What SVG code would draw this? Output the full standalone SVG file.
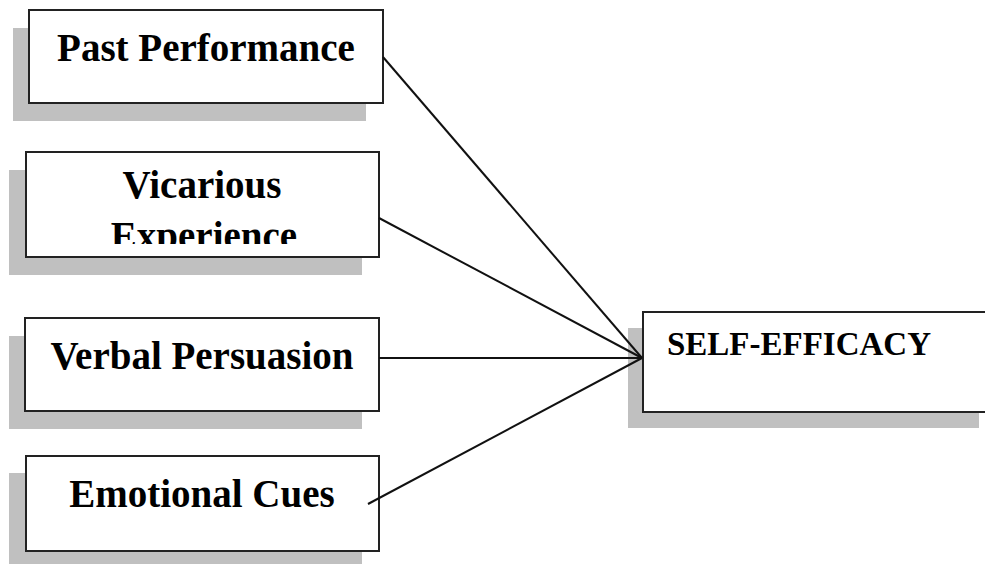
<svg xmlns="http://www.w3.org/2000/svg" width="985" height="564" viewBox="0 0 985 564">
<style>
.shadow{fill:#c0c0c0}
.box{fill:#fff;stroke:#222;stroke-width:2}
.lbl{font-family:"Liberation Serif","Times New Roman",serif;font-weight:bold;font-size:39px;fill:#000;text-anchor:middle}
.conn{stroke:#111;stroke-width:2;fill:none}
</style>
<defs>
<clipPath id="clip2"><rect x="26" y="152" width="353" height="92"/></clipPath>
</defs>
<rect width="985" height="564" fill="#fff"/>
<g id="past-performance">
<rect class="shadow" x="13" y="28" width="353" height="93"/>
<rect class="box" x="29" y="10" width="354" height="93"/>
<text class="lbl" x="206" y="61">Past Performance</text>
</g>
<g id="vicarious-experience">
<rect class="shadow" x="9" y="170" width="353" height="105"/>
<rect class="box" x="26" y="152" width="353" height="105"/>
<text class="lbl" x="202" y="198">Vicarious</text>
<text class="lbl" x="204" y="249" clip-path="url(#clip2)">Experience</text>
</g>
<g id="verbal-persuasion">
<rect class="shadow" x="9" y="336" width="353" height="93"/>
<rect class="box" x="25" y="318" width="354" height="93"/>
<text class="lbl" x="202" y="369">Verbal Persuasion</text>
</g>
<g id="emotional-cues">
<rect class="shadow" x="9" y="473" width="353" height="93"/>
<rect class="box" x="26" y="456" width="353" height="95"/>
<text class="lbl" x="202" y="507">Emotional Cues</text>
</g>
<g id="self-efficacy">
<rect class="shadow" x="628" y="328" width="351" height="100"/>
<rect class="box" x="643" y="312" width="345" height="100"/>
<text class="lbl" x="799" y="355" style="font-size:33px">SELF-EFFICACY</text>
</g>
<g id="connectors">
<line class="conn" x1="383" y1="57" x2="642" y2="358"/>
<line class="conn" x1="379" y1="218" x2="642" y2="358"/>
<line class="conn" x1="379" y1="358" x2="642" y2="358"/>
<line class="conn" x1="368" y1="504" x2="642" y2="358"/>
</g>
</svg>
